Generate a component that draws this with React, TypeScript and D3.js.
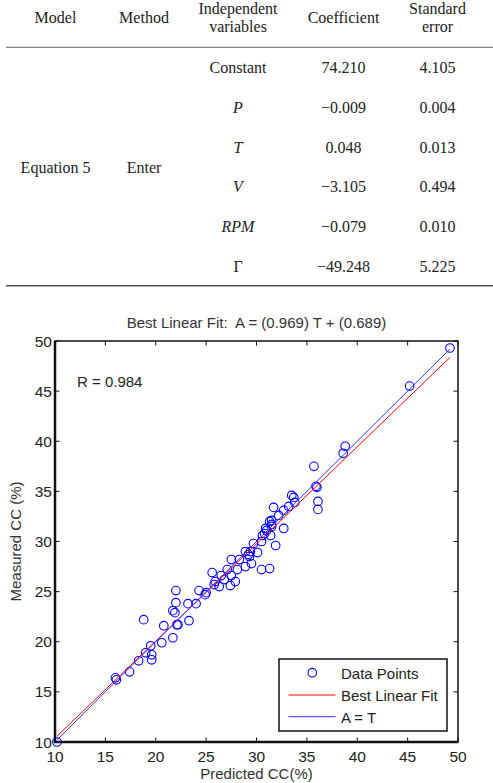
import React, { useEffect, useRef } from "react";
import * as d3 from "d3";

// regression table
const modelName = "Equation 5";
const methodName = "Enter";
const variables = ["Constant", "P", "T", "V", "RPM", "Γ"];
const italicVars = ["P", "T", "V", "RPM"];
const coefficients = ["74.210", "−0.009", "0.048", "−3.105", "−0.079", "−49.248"];
const stdErrors = ["4.105", "0.004", "0.013", "0.494", "0.010", "5.225"];

// predicted vs measured CC (%)
const predicted = [
  10.2, 16.0, 16.1, 17.4, 18.3, 18.8, 19.0, 19.5, 19.6, 19.6, 20.6, 20.8, 21.7, 21.7, 21.9,
  22.0, 22.0, 22.1, 22.2, 23.2, 23.3, 24.0, 24.3, 24.9, 25.0, 25.6, 25.8, 25.9, 26.3, 26.5,
  26.8, 27.1, 27.4, 27.5, 27.5, 27.9, 28.1, 28.3, 28.9, 28.9, 29.2, 29.4, 29.3, 29.5, 30.1,
  29.7, 30.5, 31.3, 30.5, 31.9, 30.6, 30.8, 31.4, 31.0, 30.9, 31.5, 31.5, 31.3, 31.5, 32.7,
  31.7, 32.2, 32.7, 33.2, 33.5, 33.7, 33.8, 35.7, 35.9, 36.0, 36.1, 36.1, 38.6, 38.8, 45.2,
  49.2,
];
const measured = [
  10.0, 16.4, 16.2, 17.0, 18.1, 22.2, 18.9, 19.6, 18.7, 18.2, 19.9, 21.6, 20.4, 23.1, 22.9,
  25.1, 23.9, 21.7, 21.7, 23.8, 22.1, 23.8, 25.1, 24.7, 24.9, 26.9, 25.7, 26.0, 25.5, 26.6,
  26.2, 27.2, 25.6, 26.6, 28.2, 26.0, 27.2, 28.2, 27.5, 29.0, 28.7, 29.0, 28.5, 27.8, 28.9,
  29.8, 27.2, 27.3, 30.0, 29.6, 30.6, 30.8, 30.6, 31.1, 31.3, 31.5, 31.7, 32.0, 32.1, 31.3,
  33.4, 32.6, 33.1, 33.5, 34.6, 34.4, 33.9, 37.5, 35.5, 35.4, 34.0, 33.2, 38.8, 39.5, 45.5,
  49.3,
];
const fitSlope = 0.969;
const fitIntercept = 0.689;
const rValue = "0.984";
const axisTicks = [10, 15, 20, 25, 30, 35, 40, 45, 50];
const legendLabels = ["Data Points", "Best Linear Fit", "A = T"];

const W = 493;
const H = 783;
const serif = "'Liberation Serif', 'Times New Roman', serif";
const sans = "'Liberation Sans', Arial, Helvetica, sans-serif";

export default function App() {
  const svgRef = useRef<SVGSVGElement>(null);

  useEffect(() => {
    if (!svgRef.current) return;
    const svg = d3.select(svgRef.current);
    svg.selectAll("*").remove();

    svg.append("rect").attr("width", W).attr("height", H).attr("fill", "#fff");

    // ---- table ----
    const t = svg.append("g").attr("font-family", serif).attr("font-size", 16).attr("fill", "#222");
    const colX = { model: 55.5, method: 144, vars: 238, coef: 343.5, se: 437.5 };

    const header = (x: number, lines: string[], y0: number) => {
      lines.forEach((s, i) =>
        t.append("text").attr("x", x).attr("y", y0 + i * 18.4).attr("text-anchor", "middle").text(s)
      );
    };
    header(colX.model, ["Model"], 23.3);
    header(colX.method, ["Method"], 23.3);
    header(colX.vars, ["Independent", "variables"], 13.6);
    header(colX.coef, ["Coefficient"], 23.3);
    header(colX.se, ["Standard", "error"], 13.6);

    t.append("line").attr("x1", 6).attr("x2", W).attr("y1", 47.3).attr("y2", 47.3)
      .attr("stroke", "#666").attr("stroke-width", 1);
    t.append("line").attr("x1", 6).attr("x2", W).attr("y1", 285.7).attr("y2", 285.7)
      .attr("stroke", "#555").attr("stroke-width", 1.6);

    const rowY = d3.scaleLinear().domain([0, variables.length - 1]).range([73.3, 271.7]);
    variables.forEach((v, i) => {
      t.append("text").attr("x", colX.vars).attr("y", rowY(i)).attr("text-anchor", "middle")
        .attr("font-style", italicVars.includes(v) ? "italic" : "normal").text(v);
      t.append("text").attr("x", colX.coef).attr("y", rowY(i)).attr("text-anchor", "middle").text(coefficients[i]);
      t.append("text").attr("x", colX.se).attr("y", rowY(i)).attr("text-anchor", "middle").text(stdErrors[i]);
    });
    const midY = (rowY(0) + rowY(variables.length - 1)) / 2;
    t.append("text").attr("x", colX.model).attr("y", midY).attr("text-anchor", "middle").text(modelName);
    t.append("text").attr("x", colX.method).attr("y", midY).attr("text-anchor", "middle").text(methodName);

    // ---- regression plot ----
    const left = 55, right = 458, top = 341, bottom = 742;
    const x = d3.scaleLinear().domain([10, 50]).range([left, right]);
    const y = d3.scaleLinear().domain([10, 50]).range([bottom, top]);
    const g = svg.append("g").attr("font-family", sans).attr("fill", "#222");

    g.append("text").attr("x", (left + right) / 2).attr("y", 328).attr("text-anchor", "middle")
      .attr("font-size", 15).attr("fill", "#333").style("white-space", "pre")
      .text(`Best Linear Fit:  A = (${fitSlope}) T + (${fitIntercept})`);

    // ticks pointing inward on all four sides
    axisTicks.forEach((v) => {
      const tk = 4.5;
      g.append("line").attr("x1", x(v)).attr("x2", x(v)).attr("y1", bottom).attr("y2", bottom - tk).attr("stroke", "#111");
      g.append("line").attr("x1", x(v)).attr("x2", x(v)).attr("y1", top).attr("y2", top + tk).attr("stroke", "#111");
      g.append("line").attr("y1", y(v)).attr("y2", y(v)).attr("x1", left).attr("x2", left + tk).attr("stroke", "#111");
      g.append("line").attr("y1", y(v)).attr("y2", y(v)).attr("x1", right).attr("x2", right - tk).attr("stroke", "#111");
      g.append("text").attr("x", x(v)).attr("y", 762).attr("text-anchor", "middle").attr("font-size", 15.5).text(v);
      g.append("text").attr("x", left - 3).attr("y", y(v)).attr("dy", "0.36em").attr("text-anchor", "end")
        .attr("font-size", 15.5).text(v);
    });

    g.append("text").attr("x", (left + right) / 2).attr("y", 778.5).attr("text-anchor", "middle")
      .attr("font-size", 15).attr("fill", "#333").text("Predicted CC(%)");
    g.append("text").attr("transform", `translate(21,${(top + bottom) / 2}) rotate(-90)`)
      .attr("text-anchor", "middle").attr("font-size", 15).attr("fill", "#333").text("Measured CC (%)");

    g.append("text").attr("x", 77).attr("y", 387).attr("font-size", 15).text(`R = ${rValue}`);

    const pts = predicted.map((p, i) => ({ p, m: measured[i] }));
    g.append("g").selectAll("circle").data(pts).enter().append("circle")
      .attr("cx", (d) => x(d.p)).attr("cy", (d) => y(d.m)).attr("r", 4.3)
      .attr("fill", "none").attr("stroke", "#0000ff").attr("stroke-width", 1.1);

    const [tMin, tMax] = d3.extent(predicted) as [number, number];
    const line = d3.line<number[]>().x((d) => x(d[0])).y((d) => y(d[1]));
    g.append("path").attr("d", line([[tMin, fitSlope * tMin + fitIntercept], [tMax, fitSlope * tMax + fitIntercept]]))
      .attr("stroke", "#ff0000").attr("stroke-width", 1).attr("fill", "none");
    g.append("path").attr("d", line([[tMin, tMin], [tMax, tMax]]))
      .attr("stroke", "#3333ff").attr("stroke-width", 1).attr("fill", "none");

    // frame: left and bottom drawn heavier
    g.append("rect").attr("x", left).attr("y", top).attr("width", right - left).attr("height", bottom - top)
      .attr("fill", "none").attr("stroke", "#111").attr("stroke-width", 1.5);
    g.append("path").attr("d", `M${left},${top} V${bottom} H${right}`)
      .attr("fill", "none").attr("stroke", "#111").attr("stroke-width", 2.5);

    // legend
    const lg = g.append("g");
    lg.append("rect").attr("x", 279).attr("y", 659).attr("width", 168).attr("height", 72)
      .attr("fill", "#fff").attr("stroke", "#111").attr("stroke-width", 1.5);
    lg.append("circle").attr("cx", 312.3).attr("cy", 672.7).attr("r", 4.3)
      .attr("fill", "none").attr("stroke", "#0000ff").attr("stroke-width", 1.1);
    lg.append("line").attr("x1", 288.5).attr("x2", 335.5).attr("y1", 695).attr("y2", 695)
      .attr("stroke", "#ff0000").attr("stroke-width", 1);
    lg.append("line").attr("x1", 288.5).attr("x2", 335.5).attr("y1", 716.7).attr("y2", 716.7)
      .attr("stroke", "#3333ff").attr("stroke-width", 1);
    legendLabels.forEach((s, i) => {
      lg.append("text").attr("x", 341).attr("y", 679.3 + i * 22).attr("font-size", 15).text(s);
    });
  }, []);

  return (
    <svg
      ref={svgRef}
      width={W}
      height={H}
      viewBox={`0 0 ${W} ${H}`}
      style={{ position: "absolute", left: 0, top: 0, display: "block" }}
    />
  );
}
